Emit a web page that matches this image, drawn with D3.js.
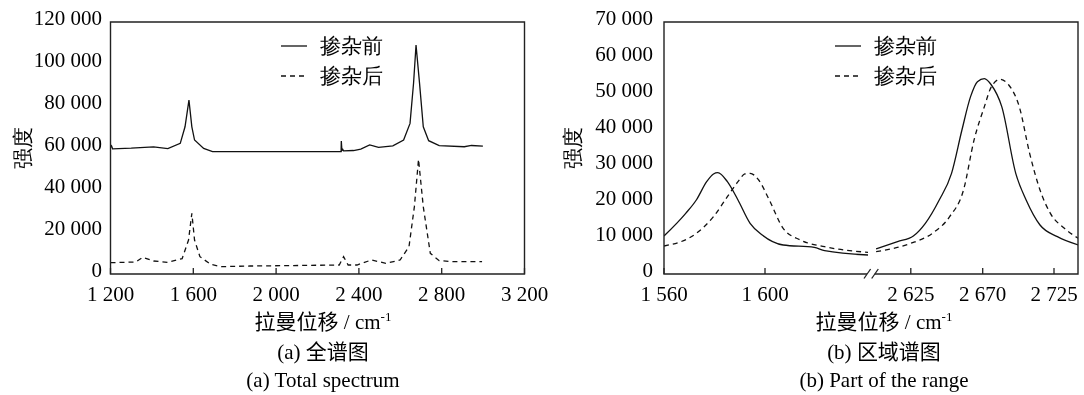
<!DOCTYPE html>
<html><head><meta charset="utf-8">
<script src="https://cdn.jsdelivr.net/npm/d3@7"></script>
<style>
body{margin:0;background:#fff}
svg{display:block;filter:grayscale(1)}
text{font-family:"Liberation Serif","Times New Roman",serif;fill:#000}
</style>
</head><body>
<svg id="c" width="1084" height="395"></svg>
<script>
// ---------- data ----------
const seriesNames = ["掺杂前", "掺杂后"];
const yTicksA = [0, 20000, 40000, 60000, 80000, 100000, 120000];
const xTicksA = [1200, 1600, 2000, 2400, 2800, 3200];
const yTicksB = [0, 10000, 20000, 30000, 40000, 50000, 60000, 70000];
const xTicksBLow = [1560, 1600];
const xTicksBHigh = [2625, 2670, 2725];

// (a) full spectrum, [Raman shift, intensity]
const fullBefore = [
  [1200,60300],[1205,61000],[1210,59600],[1300,59900],[1408,60500],[1477,59700],[1537,62200],
  [1560,70100],[1579,82800],[1593,70100],[1606,63800],[1650,59800],[1693,58300],[2314,58300],
  [2315,63300],[2318,58800],[2322,59300],[2326,58600],[2374,58800],[2409,59500],[2452,61500],
  [2495,60300],[2564,61000],[2616,63800],[2647,71700],[2664,90800],[2676,109000],[2693,90800],
  [2711,70100],[2737,63500],[2788,61100],[2909,60600],[2944,61200],[2999,60900]
];
const fullAfter = [
  [1200,5400],[1322,5710],[1356,7930],[1408,6190],[1477,5550],[1546,7300],[1577,16190],
  [1593,28880],[1606,16190],[1632,8250],[1684,4600],[1736,3490],[1874,3800],[2305,4280],
  [2326,8250],[2348,4280],[2391,4280],[2460,6670],[2530,5080],[2599,6670],[2642,13000],
  [2668,32060],[2688,54600],[2711,32060],[2745,9840],[2788,6350],[2858,5870],[2995,5870]
];

// (b) part of the range, low and high segments
const partBeforeLow = [
  [1560,10556],[1568.6,16850],[1572.8,20560],[1576.9,25650],[1579.6,27780],[1581.3,28150],
  [1585.1,25650],[1589.3,20560],[1594.1,14075],[1598.9,10830],[1607.2,8056],[1619.5,7400],
  [1623.6,6480],[1640.8,5280]
];
const partAfterLow = [
  [1560,7780],[1572.8,11300],[1579.6,15930],[1585.1,21480],[1589.3,25650],[1592.0,27780],
  [1594.1,27965],[1597.5,26110],[1601.7,20560],[1607.2,12690],[1614.0,9445],[1623.6,7590],
  [1640.8,6020]
];
const partBeforeHigh = [
  [2603.3,6945],[2616.7,8982],[2626.6,10556],[2634.1,14075],[2642.8,20560],[2650.5,27965],
  [2657.0,40000],[2662.4,49260],[2666.7,53430],[2671.3,54260],[2676.7,52500],[2684.7,46490],
  [2695.5,27965],[2703.5,20560],[2714.2,13610],[2727.6,10370],[2743.7,8056]
];
const partAfterHigh = [
  [2603.3,6200],[2625,8520],[2638.5,11300],[2649.3,15930],[2658.0,23340],[2664.6,37230],
  [2671.3,46490],[2676.7,52040],[2683.4,54080],[2690.1,52500],[2698.2,46490],[2706.2,33520],
  [2714.2,23340],[2722.2,16850],[2733.0,12690],[2743.7,9910]
];

// ---------- drawing ----------
const svg = d3.select("#c");
const fmt = v => d3.format(",")(v).replace(/,/g, " ");
const FS = 21;
const DASH = "5,4";
const STROKE = "#111";
const LATIN = "Liberation Serif";
const CJK = "Noto Sans CJK SC";

// append text split into CJK / Latin runs, each with its own font
function mixed(textSel, str) {
  const runs = str.match(/[\u3400-\u9fff]+|[^\u3400-\u9fff]+/g);
  runs.forEach(r => {
    textSel.append("tspan")
      .attr("font-family", /[\u3400-\u9fff]/.test(r) ? CJK : LATIN)
      .text(r);
  });
  return textSel;
}

function frame(g, x0, x1, y0, y1, gap) {
  const p = d3.path();
  if (gap) {
    p.moveTo(gap[1], y1); p.lineTo(x1, y1); p.lineTo(x1, y0); p.lineTo(x0, y0); p.lineTo(x0, y1); p.lineTo(gap[0], y1);
  } else {
    p.moveTo(x0, y0); p.lineTo(x1, y0); p.lineTo(x1, y1); p.lineTo(x0, y1); p.closePath();
  }
  g.append("path").attr("d", p.toString()).attr("fill", "none").attr("stroke", "#222").attr("stroke-width", 1.4);
}

function yAxisLabels(g, y, ticks, xRight) {
  g.selectAll(null).data(ticks).enter().append("text")
    .attr("x", xRight).attr("y", d => y(d)).attr("dy", "0.12em")
    .attr("font-family", LATIN)
    .attr("text-anchor", "end").attr("font-size", FS).text(fmt);
}
function xTicks(g, x, ticks, yBottom, labelY) {
  g.selectAll(null).data(ticks).enter().append("line")
    .attr("x1", d => x(d)).attr("x2", d => x(d)).attr("y1", yBottom).attr("y2", yBottom - 6)
    .attr("stroke", "#222").attr("stroke-width", 1.3);
  g.selectAll(null).data(ticks).enter().append("text")
    .attr("x", d => x(d)).attr("y", labelY).attr("text-anchor", "middle")
    .attr("font-family", LATIN)
    .attr("font-size", FS).text(fmt);
}
function drawLine(g, data, x, y, dashed, curve) {
  g.append("path").datum(data)
    .attr("d", d3.line().x(d => x(d[0])).y(d => y(d[1])).curve(curve))
    .attr("fill", "none").attr("stroke", STROKE).attr("stroke-width", 1.3)
    .attr("stroke-dasharray", dashed ? DASH : null);
}
function legend(g, x, y) {
  seriesNames.forEach((name, i) => {
    const yy = y + i * 30;
    g.append("line").attr("x1", x).attr("x2", x + 26).attr("y1", yy).attr("y2", yy)
      .attr("stroke", STROKE).attr("stroke-width", 1.3).attr("stroke-dasharray", i ? DASH : null);
    g.append("text").attr("x", x + 39).attr("y", yy + 6.5).attr("font-size", FS)
      .attr("font-family", CJK).text(name);
  });
}
function titles(g, cx, yLabelX, caption1, caption2) {
  const t = g.append("text").attr("x", cx).attr("y", 329).attr("text-anchor", "middle").attr("font-size", FS);
  mixed(t, "拉曼位移 / cm");
  t.append("tspan").attr("font-family", LATIN).attr("font-size", 13).attr("dy", -8).text("-1");
  mixed(g.append("text").attr("x", cx).attr("y", 359).attr("text-anchor", "middle").attr("font-size", FS), caption1);
  mixed(g.append("text").attr("x", cx).attr("y", 387).attr("text-anchor", "middle").attr("font-size", FS), caption2);
  g.append("text").attr("transform", `translate(${yLabelX},148) rotate(-90)`)
    .attr("font-family", CJK)
    .attr("text-anchor", "middle").attr("dy", "0.35em").attr("font-size", FS).text("强度");
}

// Panel (a)
const gA = svg.append("g");
const xA = d3.scaleLinear().domain([1200, 3200]).range([110.5, 524.5]);
const yA = d3.scaleLinear().domain([0, 120000]).range([274, 22]);
drawLine(gA, fullBefore, xA, yA, false, d3.curveLinear);
drawLine(gA, fullAfter, xA, yA, true, d3.curveLinear);
frame(gA, 110.5, 524.5, 22, 274);
yAxisLabels(gA, yA, yTicksA, 102);
xTicks(gA, xA, xTicksA, 274, 300.5);
legend(gA, 281, 46);
titles(gA, 323, 23, "(a) 全谱图", "(a) Total spectrum");

// Panel (b)
const gB = svg.append("g");
const yB = d3.scaleLinear().domain([0, 70000]).range([274, 22]);
const xBLow = d3.scaleLinear().domain([1560, 1600]).range([664, 765]);
const xBHigh = d3.scaleLinear().domain([2625, 2670, 2725]).range([910.8, 982.7, 1054]);
gB.append("clipPath").attr("id", "clipB").append("rect").attr("x", 664).attr("y", 22).attr("width", 414).attr("height", 252);
const gBL = gB.append("g").attr("clip-path", "url(#clipB)");
drawLine(gBL, partBeforeLow, xBLow, yB, false, d3.curveMonotoneX);
drawLine(gBL, partAfterLow, xBLow, yB, true, d3.curveMonotoneX);
drawLine(gBL, partBeforeHigh, xBHigh, yB, false, d3.curveMonotoneX);
drawLine(gBL, partAfterHigh, xBHigh, yB, true, d3.curveMonotoneX);
frame(gB, 664, 1078, 22, 274, [867, 874.7]);
// axis break marks
[0, 7.7].forEach(off => {
  gB.append("line").attr("x1", 864 + off).attr("y1", 278.5).attr("x2", 870.6 + off).attr("y2", 269)
    .attr("stroke", "#222").attr("stroke-width", 1.3);
});
yAxisLabels(gB, yB, yTicksB, 653);
xTicks(gB, xBLow, xTicksBLow, 274, 300.5);
xTicks(gB, xBHigh, xTicksBHigh, 274, 300.5);
legend(gB, 835, 46);
titles(gB, 884, 573, "(b) 区域谱图", "(b) Part of the range");
</script>
</body></html>
